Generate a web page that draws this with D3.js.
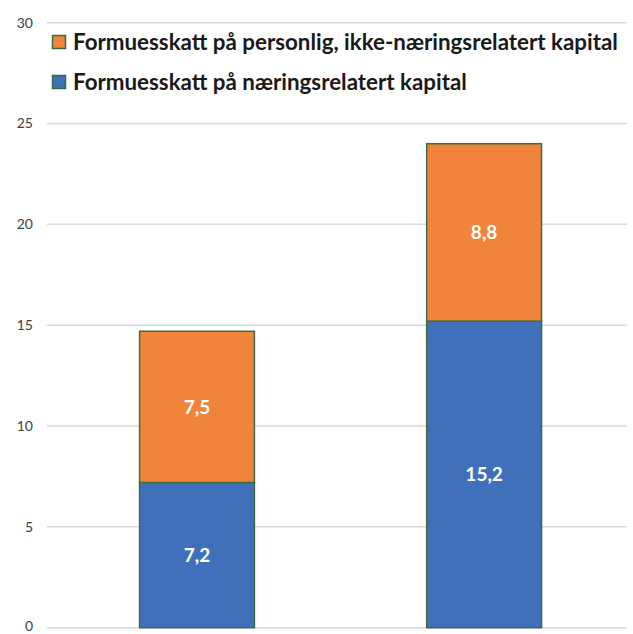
<!DOCTYPE html>
<html><head><meta charset="utf-8">
<script src="https://cdn.jsdelivr.net/npm/d3@7"></script>
<style>body{margin:0;background:#fff}svg{display:block}</style>
</head><body>
<svg id="c" width="633" height="634"></svg>
<script>
const categories = ["A", "B"];
const seriesNames = ["Formuesskatt på næringsrelatert kapital", "Formuesskatt på personlig, ikke-næringsrelatert kapital"];
const naering = [7.2, 15.2];
const personlig = [7.5, 8.8];
const yTicks = [0, 5, 10, 15, 20, 25, 30];
const colors = ["#3F70B9", "#F0843A"];

const svg = d3.select("#c");
const x0 = 47, x1 = 627, yTop = 22.7, yBot = 627.7;
const y = d3.scaleLinear().domain([0, 30]).range([yBot, yTop]);
const x = d3.scaleBand().domain(categories).range([x0, x1]).paddingInner(0.6).paddingOuter(0.31).align(0.52);

// gridlines
svg.append("g").selectAll("line").data(yTicks).join("line")
  .attr("x1", x0).attr("x2", x1)
  .attr("y1", d => y(d)).attr("y2", d => y(d))
  .attr("stroke", "#D9D9D9").attr("stroke-width", 1.5);

// y tick labels
svg.append("g").selectAll("text").data(yTicks).join("text")
  .attr("x", 33).attr("y", d => y(d)).attr("dy", d => d === 0 ? "0.2em" : "0.35em")
  .attr("text-anchor", "end")
  .attr("font-family", "Lato, 'Open Sans', sans-serif").attr("font-size", 14)
  .attr("fill", "#404040")
  .text(d => d);

const data = categories.map((c, i) => ({c, v: [naering[i], personlig[i]]}));
const stack = d3.stack().keys([0, 1]).value((d, k) => d.v[k]);
const stacked = stack(data);

const g = svg.append("g");
stacked.forEach((layer, k) => {
  g.append("g").selectAll("rect").data(layer).join("rect")
    .attr("x", d => x(d.data.c))
    .attr("width", x.bandwidth())
    .attr("y", d => y(d[1]))
    .attr("height", d => y(d[0]) - y(d[1]))
    .attr("fill", colors[k])
    .attr("stroke", "#3D6B40").attr("stroke-width", 1.5);
  g.append("g").selectAll("text").data(layer).join("text")
    .attr("x", d => x(d.data.c) + x.bandwidth() / 2)
    .attr("y", d => (y(d[0]) + y(d[1])) / 2)
    .attr("dy", "0.35em")
    .attr("text-anchor", "middle")
    .attr("font-family", "Lato, 'Open Sans', sans-serif").attr("font-weight", "bold").attr("font-size", 19)
    .attr("fill", "#fff")
    .text(d => d3.format(".1f")(d[1] - d[0]).replace(".", ","));
});

// legend
const leg = [{name: seriesNames[1], color: colors[1], y: 42}, {name: seriesNames[0], color: colors[0], y: 82}];
const lg = svg.append("g");
leg.forEach(l => {
  lg.append("rect").attr("x", 52.5).attr("y", l.y - 6.5).attr("width", 13).attr("height", 13)
    .attr("fill", l.color).attr("stroke", "#3D6B40").attr("stroke-width", 1.5);
  lg.append("text").attr("x", 73).attr("y", l.y).attr("dy", "0.36em")
    .attr("font-family", "Lato, 'Open Sans', sans-serif").attr("font-weight", "bold").attr("font-size", 17)
    .attr("fill", "#1a1a1a").text(l.name);
});
// fit legend font so that longest entry spans ~545px
const t0 = lg.selectAll("text").nodes()[0];
const w = t0.getComputedTextLength();
const fs = 17 * 545 / w;
lg.selectAll("text").attr("font-size", fs);
</script>
</body></html>
